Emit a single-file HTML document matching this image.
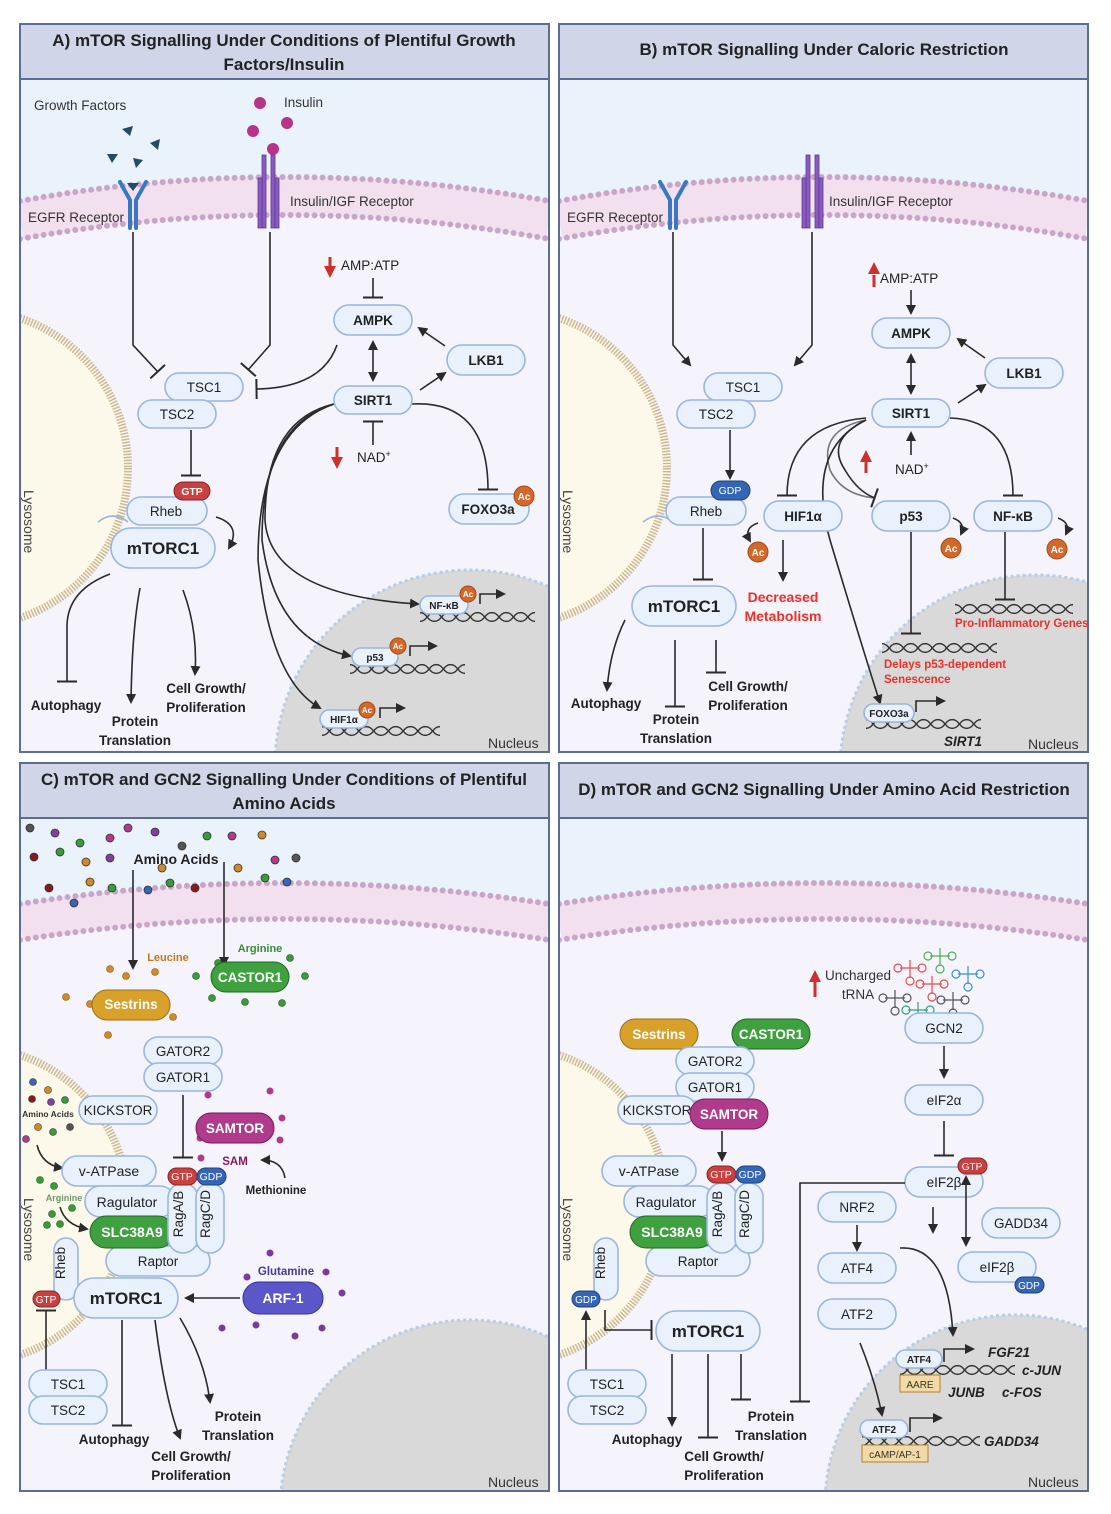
<!DOCTYPE html>
<html><head><meta charset="utf-8"><style>
html,body{margin:0;padding:0;background:#fff;width:1111px;height:1514px;overflow:hidden}
svg{display:block;font-family:"Liberation Sans",sans-serif;font-size:13.5px}
.p{fill:#e8f1fc;stroke:#9ab6df;stroke-width:1.6}
.t{fill:#222;text-anchor:middle}
.b{font-weight:bold}
.w{fill:#fff;font-weight:bold;text-anchor:middle}
.l{fill:none;stroke:#2a2a2a;stroke-width:1.6}
.lg{fill:none;stroke:#777;stroke-width:1.6}
.h{font-size:17px;font-weight:bold;fill:#222;text-anchor:middle}
.red{fill:#e8322a;font-weight:bold}
.it{font-style:italic;font-weight:bold;font-size:13.5px;fill:#222}
.ac{fill:#d2692a;stroke:#a44a16;stroke-width:1}
</style></head><body>
<svg width="1111" height="1514" viewBox="0 0 1111 1514">
<defs>
<marker id="ar" viewBox="0 0 10 10" refX="8" refY="5" markerWidth="10" markerHeight="10" orient="auto-start-reverse" markerUnits="userSpaceOnUse"><path d="M0,0L10,5L0,10z" fill="#2a2a2a"/></marker>
<marker id="tb" viewBox="0 0 4 20" refX="2" refY="10" markerWidth="4" markerHeight="20" orient="auto" markerUnits="userSpaceOnUse"><rect x="0.5" y="0" width="2" height="20" fill="#2a2a2a"/></marker>
<clipPath id="cA"><rect x="21" y="80" width="527" height="671"/></clipPath>
<clipPath id="cB"><rect x="560" y="80" width="527" height="671"/></clipPath>
<clipPath id="cC"><rect x="21" y="819" width="527" height="671"/></clipPath>
<clipPath id="cD"><rect x="560" y="819" width="527" height="671"/></clipPath>
<symbol id="dna" viewBox="0 0 120 16" preserveAspectRatio="none">
<path d="M0,3 C7.5,3 7.5,13 15,13 S22.5,3 30,3 S37.5,13 45,13 S52.5,3 60,3 S67.5,13 75,13 S82.5,3 90,3 S97.5,13 105,13 S112.5,3 120,3" fill="none" stroke="#333" stroke-width="1.6"/>
<path d="M0,13 C7.5,13 7.5,3 15,3 S22.5,13 30,13 S37.5,3 45,3 S52.5,13 60,13 S67.5,3 75,3 S82.5,13 90,13 S97.5,3 105,3 S112.5,13 120,13" fill="none" stroke="#333" stroke-width="1.6"/>
</symbol>
</defs>

<!-- ================= PANEL A ================= -->
<g clip-path="url(#cA)">
<rect x="20" y="79" width="530" height="674" fill="#f5f3fb"/>
<path d="M20,79H549V220Q284,172 20,220Z" fill="#eaf2fb"/>
<path d="M20,220Q284,172 549,220" fill="none" stroke="#f3e0ee" stroke-width="38"/>
<path d="M20,201Q284,153 549,201" fill="none" stroke="#c9a6c9" stroke-width="6" stroke-dasharray="0 8" stroke-linecap="round"/>
<path d="M20,239Q284,191 549,239" fill="none" stroke="#c9a6c9" stroke-width="6" stroke-dasharray="0 8" stroke-linecap="round"/>
<circle cx="-30" cy="468" r="158" fill="#fdf9ea" stroke="#cdb98c" stroke-width="8" stroke-dasharray="1.5 1.5"/>
<circle cx="470" cy="765" r="195" fill="#d9d9d9" stroke="#b8cde6" stroke-width="3" stroke-dasharray="3 3"/>
</g>
<rect x="20" y="24" width="529" height="728" fill="none" stroke="#5b6d95" stroke-width="2"/>
<rect x="20" y="24" width="529" height="55" fill="#d0d6e8" stroke="#5b6d95" stroke-width="2"/>
<text class="h" x="284" y="46">A) mTOR Signalling Under Conditions of Plentiful Growth</text>
<text class="h" x="284" y="70">Factors/Insulin</text>
<text x="34" y="110" font-size="13.5" fill="#333">Growth Factors</text>
<g fill="#1f4e63"><path d="M122,129l11,-3l-3,10z"/><path d="M150,143l10,-4l-2,11z"/><path d="M107,154l11,0l-6,9z"/><path d="M133,158l10,2l-7,8z"/></g>
<g fill="#b8348a"><circle cx="260" cy="103" r="6"/><circle cx="253" cy="131" r="6"/><circle cx="287" cy="123" r="6"/><circle cx="273" cy="149" r="6"/></g>
<text x="284" y="107" font-size="13.5" fill="#333">Insulin</text>
<g fill="none" stroke="#3a78c0" stroke-width="4" stroke-linecap="round"><path d="M120,182l10,18v28"/><path d="M146,182l-10,18v28"/></g>
<path d="M127,183h12l-6,8z" fill="#1f4e63"/>
<g fill="#8a5ac0" stroke="#5a3a90" stroke-width="0.8"><rect x="262" y="155" width="4" height="73"/><rect x="271" y="155" width="4" height="73"/><rect x="258" y="178" width="4" height="50"/><rect x="275" y="178" width="4" height="50"/></g>
<text x="28" y="222" font-size="13.5" fill="#333">EGFR Receptor</text>
<text x="290" y="206" font-size="13.5" fill="#333">Insulin/IGF Receptor</text>
<text x="24" y="490" font-size="14" fill="#444" transform="rotate(90 24 490)">Lysosome</text>
<text x="488" y="748" font-size="14" fill="#333">Nucleus</text>
<path class="l" d="M133,232V345L158,372" marker-end="url(#tb)"/>
<path class="l" d="M270,232V345L248,370" marker-end="url(#tb)"/>
<path class="l" d="M337,345Q322,388 256,389" marker-end="url(#tb)"/>
<path class="l" d="M373,278V298" marker-end="url(#tb)"/>
<path class="l" d="M373,342V380" marker-start="url(#ar)" marker-end="url(#ar)"/>
<path class="l" d="M373,445V421" marker-end="url(#tb)"/>
<path class="l" d="M445,346L419,328" marker-end="url(#ar)"/>
<path class="l" d="M420,390L445,373" marker-end="url(#ar)"/>
<path class="l" d="M412,404Q488,400 488,490" marker-end="url(#tb)"/>
<path class="l" d="M191,430V476" marker-end="url(#tb)"/>
<path class="l" d="M216,517Q242,525 229,548" marker-end="url(#ar)"/>
<path class="l" d="M110,574Q68,590 67,625V682" marker-end="url(#tb)"/>
<path class="l" d="M140,588Q132,630 131,702" marker-end="url(#ar)"/>
<path class="l" d="M183,590Q198,630 195,674" marker-end="url(#ar)"/>
<path class="l" d="M334,404Q265,420 265,520Q270,595 418,604" marker-end="url(#ar)"/>
<path class="l" d="M334,404Q262,425 262,540Q275,640 350,656" marker-end="url(#ar)"/>
<path class="l" d="M334,404Q258,430 258,560Q270,680 320,708" marker-end="url(#ar)"/>
<rect class="p" x="165" y="373" width="78" height="28" rx="14"/><text class="t" x="204" y="392">TSC1</text>
<rect class="p" x="138" y="400" width="78" height="28" rx="14"/><text class="t" x="177" y="419">TSC2</text>
<rect class="p" x="334" y="305" width="78" height="30" rx="15"/><text class="t b" x="373" y="325">AMPK</text>
<rect class="p" x="334" y="386" width="78" height="28" rx="14"/><text class="t b" x="373" y="405">SIRT1</text>
<rect class="p" x="447" y="345" width="78" height="30" rx="15"/><text class="t b" x="486" y="365">LKB1</text>
<rect class="p" x="449" y="494" width="80" height="30" rx="15"/><text class="t b" x="488" y="514">FOXO3a</text>
<circle class="ac" cx="524" cy="496" r="10"/><text class="w" x="524" y="500" font-size="10">Ac</text>
<text x="341" y="270" font-size="13.5" fill="#222">AMP:ATP</text>
<path d="M330,257v12" stroke="#d0302a" stroke-width="3"/><path d="M324,266h12l-6,12z" fill="#d0302a"/>
<text x="357" y="462" font-size="13.5" fill="#222">NAD<tspan font-size="9" dy="-5">+</tspan></text>
<path d="M337,447v12" stroke="#d0302a" stroke-width="3"/><path d="M331,457h12l-6,12z" fill="#d0302a"/>
<path d="M98,522q15,-12 30,0" fill="none" stroke="#9ab6df" stroke-width="1.6"/>
<rect class="p" x="127" y="497" width="80" height="28" rx="14"/><text class="t" x="166" y="516">Rheb</text>
<rect x="174" y="482" width="36" height="18" rx="9" fill="#c84040" stroke="#8e2424"/><text class="w" x="192" y="495" font-size="10.5">GTP</text>
<rect class="p" x="111" y="528" width="104" height="40" rx="20"/><text class="t b" x="163" y="554" font-size="17">mTORC1</text>
<use href="#dna" x="420" y="610" width="115" height="14"/>
<rect class="p" x="420" y="596" width="48" height="18" rx="9"/><text class="t b" x="444" y="609" font-size="10">NF-κB</text>
<circle class="ac" cx="468" cy="594" r="8"/><text class="w" x="468" y="597" font-size="8">Ac</text>
<path class="l" d="M480,604V594H504" marker-end="url(#ar)"/>
<use href="#dna" x="350" y="662" width="115" height="14"/>
<rect class="p" x="352" y="648" width="46" height="18" rx="9"/><text class="t b" x="375" y="661" font-size="10">p53</text>
<circle class="ac" cx="398" cy="646" r="8"/><text class="w" x="398" y="649" font-size="8">Ac</text>
<path class="l" d="M410,656V646H436" marker-end="url(#ar)"/>
<use href="#dna" x="322" y="724" width="118" height="14"/>
<rect class="p" x="320" y="710" width="48" height="18" rx="9"/><text class="t b" x="344" y="723" font-size="10">HIF1α</text>
<circle class="ac" cx="367" cy="710" r="8"/><text class="w" x="367" y="713" font-size="8">Ac</text>
<path class="l" d="M380,718V708H404" marker-end="url(#ar)"/>
<text class="t b" x="66" y="710">Autophagy</text>
<text class="t b" x="135" y="726">Protein</text><text class="t b" x="135" y="745">Translation</text>
<text class="t b" x="206" y="693">Cell Growth/</text><text class="t b" x="206" y="712">Proliferation</text>

<!-- ================= PANEL B ================= -->
<g clip-path="url(#cB)">
<rect x="559" y="79" width="530" height="674" fill="#f5f3fb"/>
<path d="M559,79H1088V220Q823,172 559,220Z" fill="#eaf2fb"/>
<path d="M559,220Q823,172 1088,220" fill="none" stroke="#f3e0ee" stroke-width="38"/>
<path d="M559,201Q823,153 1088,201" fill="none" stroke="#c9a6c9" stroke-width="6" stroke-dasharray="0 8" stroke-linecap="round"/>
<path d="M559,239Q823,191 1088,239" fill="none" stroke="#c9a6c9" stroke-width="6" stroke-dasharray="0 8" stroke-linecap="round"/>
<circle cx="509" cy="468" r="158" fill="#fdf9ea" stroke="#cdb98c" stroke-width="8" stroke-dasharray="1.5 1.5"/>
<circle cx="1035" cy="770" r="195" fill="#d9d9d9" stroke="#b8cde6" stroke-width="3" stroke-dasharray="3 3"/>
</g>
<rect x="559" y="24" width="529" height="728" fill="none" stroke="#5b6d95" stroke-width="2"/>
<rect x="559" y="24" width="529" height="55" fill="#d0d6e8" stroke="#5b6d95" stroke-width="2"/>
<text class="h" x="824" y="55">B) mTOR Signalling Under Caloric Restriction</text>
<g fill="none" stroke="#3a78c0" stroke-width="4" stroke-linecap="round"><path d="M660,182l10,18v28"/><path d="M686,182l-10,18v28"/></g>
<g fill="#8a5ac0" stroke="#5a3a90" stroke-width="0.8"><rect x="806" y="155" width="4" height="73"/><rect x="815" y="155" width="4" height="73"/><rect x="802" y="178" width="4" height="50"/><rect x="819" y="178" width="4" height="50"/></g>
<text x="567" y="222" font-size="13.5" fill="#333">EGFR Receptor</text>
<text x="829" y="206" font-size="13.5" fill="#333">Insulin/IGF Receptor</text>
<text x="563" y="490" font-size="14" fill="#444" transform="rotate(90 563 490)">Lysosome</text>
<text x="1028" y="749" font-size="14" fill="#333">Nucleus</text>
<path class="l" d="M673,232V345L690,365" marker-end="url(#ar)"/>
<path class="l" d="M812,232V345L795,365" marker-end="url(#ar)"/>
<path class="l" d="M911,290V313" marker-end="url(#ar)"/>
<path class="l" d="M911,355V393" marker-start="url(#ar)" marker-end="url(#ar)"/>
<path class="l" d="M985,358L958,339" marker-end="url(#ar)"/>
<path class="l" d="M958,403L985,385" marker-end="url(#ar)"/>
<path class="l" d="M911,455V433" marker-end="url(#ar)"/>
<path class="l" d="M730,430V478" marker-end="url(#ar)"/>
<path class="l" d="M703,528V580" marker-end="url(#tb)"/>
<path class="l" d="M866,418Q787,425 787,496" marker-end="url(#tb)"/>
<path class="lg" d="M866,420Q818,430 830,470Q842,495 875,498"/>
<path class="l" d="M866,420Q825,440 845,470Q858,492 875,498" marker-end="url(#tb)"/>
<path class="l" d="M950,418Q1013,420 1013,496" marker-end="url(#tb)"/>
<path class="l" d="M866,420Q805,450 830,540Q860,640 880,703" marker-end="url(#ar)"/>
<path class="l" d="M783,540V580" marker-end="url(#ar)"/>
<path class="l" d="M911,532V634" marker-end="url(#tb)"/>
<path class="l" d="M1005,532V600" marker-end="url(#tb)"/>
<path class="l" d="M758,523q-15,5 -8,18" marker-end="url(#ar)"/>
<path class="l" d="M953,518q13,5 8,16" marker-end="url(#ar)"/>
<path class="l" d="M1058,518q13,5 8,16" marker-end="url(#ar)"/>
<path class="l" d="M625,620Q610,650 607,690" marker-end="url(#ar)"/>
<path class="l" d="M675,640V707" marker-end="url(#tb)"/>
<path class="l" d="M716,640V673" marker-end="url(#tb)"/>
<rect class="p" x="704" y="373" width="78" height="28" rx="14"/><text class="t" x="743" y="392">TSC1</text>
<rect class="p" x="677" y="400" width="78" height="28" rx="14"/><text class="t" x="716" y="419">TSC2</text>
<rect class="p" x="872" y="318" width="78" height="30" rx="15"/><text class="t b" x="911" y="338">AMPK</text>
<rect class="p" x="872" y="399" width="78" height="28" rx="14"/><text class="t b" x="911" y="418">SIRT1</text>
<rect class="p" x="985" y="358" width="78" height="30" rx="15"/><text class="t b" x="1024" y="378">LKB1</text>
<text x="880" y="283" font-size="13.5" fill="#222">AMP:ATP</text>
<path d="M874,275v12" stroke="#d0302a" stroke-width="3"/><path d="M868,274h12l-6,-12z" fill="#d0302a"/>
<text x="895" y="474" font-size="13.5" fill="#222">NAD<tspan font-size="9" dy="-5">+</tspan></text>
<path d="M866,461v12" stroke="#d0302a" stroke-width="3"/><path d="M860,462h12l-6,-12z" fill="#d0302a"/>
<path d="M643,522q15,-12 30,0" fill="none" stroke="#9ab6df" stroke-width="1.6"/>
<rect class="p" x="666" y="497" width="80" height="28" rx="14"/><text class="t" x="706" y="516">Rheb</text>
<rect x="711" y="481" width="39" height="19" rx="9.5" fill="#3565b5" stroke="#1f447f"/><text x="730" y="494" font-size="10.5" fill="#fff" text-anchor="middle">GDP</text>
<rect class="p" x="632" y="586" width="104" height="40" rx="20"/><text class="t b" x="684" y="612" font-size="17">mTORC1</text>
<rect class="p" x="764" y="501" width="78" height="30" rx="15"/><text class="t b" x="803" y="521">HIF1α</text>
<circle class="ac" cx="758" cy="552" r="10"/><text class="w" x="758" y="556" font-size="10">Ac</text>
<rect class="p" x="872" y="501" width="78" height="30" rx="15"/><text class="t b" x="911" y="521">p53</text>
<circle class="ac" cx="951" cy="548" r="10"/><text class="w" x="951" y="552" font-size="10">Ac</text>
<rect class="p" x="974" y="501" width="78" height="30" rx="15"/><text class="t b" x="1013" y="521">NF-κB</text>
<circle class="ac" cx="1057" cy="549" r="10"/><text class="w" x="1057" y="553" font-size="10">Ac</text>
<text class="red" x="783" y="602" text-anchor="middle" font-size="14">Decreased</text>
<text class="red" x="783" y="621" text-anchor="middle" font-size="14">Metabolism</text>
<use href="#dna" x="955" y="602" width="118" height="14"/>
<text class="red" x="955" y="627" font-size="11.5">Pro-Inflammatory Genes</text>
<use href="#dna" x="882" y="641" width="115" height="14"/>
<text class="red" x="884" y="668" font-size="11.5">Delays p53-dependent</text>
<text class="red" x="884" y="683" font-size="11.5">Senescence</text>
<use href="#dna" x="866" y="717" width="115" height="14"/>
<rect class="p" x="864" y="704" width="50" height="18" rx="9"/><text class="t b" x="889" y="717" font-size="10">FOXO3a</text>
<path class="l" d="M916,712V701H944" marker-end="url(#ar)"/>
<text class="it" x="944" y="746">SIRT1</text>
<text class="t b" x="606" y="708">Autophagy</text>
<text class="t b" x="676" y="724">Protein</text><text class="t b" x="676" y="743">Translation</text>
<text class="t b" x="748" y="691">Cell Growth/</text><text class="t b" x="748" y="710">Proliferation</text>

<!-- ================= PANEL C ================= -->
<g clip-path="url(#cC)">
<rect x="20" y="818" width="530" height="674" fill="#f5f3fb"/>
<path d="M20,818H549V922Q284,900 20,922Z" fill="#eaf2fb"/>
<path d="M20,922Q284,880 549,922" fill="none" stroke="#f3e0ee" stroke-width="36"/>
<path d="M20,904Q284,862 549,904" fill="none" stroke="#c9a6c9" stroke-width="6" stroke-dasharray="0 8" stroke-linecap="round"/>
<path d="M20,940Q284,898 549,940" fill="none" stroke="#c9a6c9" stroke-width="6" stroke-dasharray="0 8" stroke-linecap="round"/>
<circle cx="-30" cy="1205" r="158" fill="#fdf9ea" stroke="#cdb98c" stroke-width="8" stroke-dasharray="1.5 1.5"/>
<circle cx="470" cy="1510" r="190" fill="#d9d9d9" stroke="#b8cde6" stroke-width="3" stroke-dasharray="3 3"/>
</g>
<rect x="20" y="763" width="529" height="728" fill="none" stroke="#5b6d95" stroke-width="2"/>
<rect x="20" y="763" width="529" height="55" fill="#d0d6e8" stroke="#5b6d95" stroke-width="2"/>
<text class="h" x="284" y="785">C) mTOR and GCN2  Signalling Under Conditions of Plentiful</text>
<text class="h" x="284" y="809">Amino Acids</text>
<g stroke="#333" stroke-width="0.8">
<circle cx="30" cy="828" r="4" fill="#555"/><circle cx="55" cy="833" r="4" fill="#8040a0"/><circle cx="80" cy="843" r="4" fill="#3a9a3a"/><circle cx="110" cy="838" r="4" fill="#b03a8c"/><circle cx="128" cy="828" r="4" fill="#b03a8c"/><circle cx="155" cy="832" r="4" fill="#8040a0"/><circle cx="182" cy="846" r="4" fill="#555"/><circle cx="207" cy="836" r="4" fill="#3a9a3a"/><circle cx="232" cy="836" r="4" fill="#b03a8c"/><circle cx="262" cy="835" r="4" fill="#d08a2a"/><circle cx="275" cy="860" r="4" fill="#b03a8c"/><circle cx="296" cy="858" r="4" fill="#555"/>
<circle cx="34" cy="857" r="4" fill="#8a1a1a"/><circle cx="60" cy="852" r="4" fill="#3a9a3a"/><circle cx="86" cy="862" r="4" fill="#d08a2a"/><circle cx="110" cy="858" r="4" fill="#8040a0"/><circle cx="49" cy="888" r="4" fill="#8a1a1a"/><circle cx="74" cy="903" r="4" fill="#3565b5"/><circle cx="90" cy="882" r="4" fill="#d08a2a"/><circle cx="112" cy="888" r="4" fill="#3a9a3a"/><circle cx="148" cy="890" r="4" fill="#3565b5"/><circle cx="170" cy="883" r="4" fill="#3a9a3a"/><circle cx="195" cy="888" r="4" fill="#8a1a1a"/><circle cx="238" cy="868" r="4" fill="#d08a2a"/><circle cx="265" cy="878" r="4" fill="#3a9a3a"/><circle cx="287" cy="882" r="4" fill="#3565b5"/><circle cx="162" cy="868" r="4" fill="#d08a2a"/>
</g>
<text class="t b" x="176" y="864" font-size="14">Amino Acids</text>
<path class="l" d="M133,870V968" marker-end="url(#ar)"/>
<path class="l" d="M224,862V965" marker-end="url(#ar)"/>
<g fill="#d08a2a" stroke="#8a5a10" stroke-width="0.6"><circle cx="110" cy="969" r="3.5"/><circle cx="126" cy="976" r="3.5"/><circle cx="155" cy="972" r="3.5"/><circle cx="66" cy="997" r="3.5"/><circle cx="173" cy="1017" r="3.5"/><circle cx="108" cy="1035" r="3.5"/><circle cx="90" cy="1004" r="3.5"/></g>
<text x="168" y="961" font-size="11" font-weight="bold" fill="#c07a20" text-anchor="middle">Leucine</text>
<rect x="92" y="990" width="78" height="30" rx="15" fill="#d9a12a" stroke="#9a6e16"/><text class="w" x="131" y="1009" font-size="13.5">Sestrins</text>
<g fill="#3a9a3a" stroke="#1a5a1a" stroke-width="0.6"><circle cx="196" cy="976" r="3.5"/><circle cx="218" cy="963" r="3.5"/><circle cx="305" cy="976" r="3.5"/><circle cx="290" cy="958" r="3.5"/><circle cx="245" cy="1002" r="3.5"/><circle cx="282" cy="1003" r="3.5"/><circle cx="212" cy="998" r="3.5"/></g>
<text x="260" y="952" font-size="11" font-weight="bold" fill="#3a8a3a" text-anchor="middle">Arginine</text>
<rect x="211" y="962" width="78" height="30" rx="15" fill="#3fa03f" stroke="#226622"/><text class="w" x="250" y="982" font-size="13.5">CASTOR1</text>
<path class="l" d="M183,1095V1158" marker-end="url(#tb)"/>
<rect class="p" x="144" y="1037" width="78" height="28" rx="14"/><text class="t" x="183" y="1056">GATOR2</text>
<rect class="p" x="144" y="1063" width="78" height="28" rx="14"/><text class="t" x="183" y="1082">GATOR1</text>
<rect class="p" x="79" y="1096" width="78" height="28" rx="14"/><text class="t" x="118" y="1115">KICKSTOR</text>
<g fill="#b03a8c"><circle cx="208" cy="1095" r="3.5"/><circle cx="270" cy="1091" r="3.5"/><circle cx="282" cy="1118" r="3.5"/><circle cx="280" cy="1140" r="3.5"/><circle cx="200" cy="1138" r="3.5"/><circle cx="201" cy="1158" r="3.5"/></g>
<rect x="196" y="1113" width="78" height="30" rx="15" fill="#b03a8c" stroke="#7a1a5a"/><text class="w" x="235" y="1133" font-size="13.5">SAMTOR</text>
<text x="235" y="1165" font-size="11.5" font-weight="bold" fill="#8a1a5a" text-anchor="middle">SAM</text>
<path class="l" d="M285,1178Q282,1160 262,1160" marker-end="url(#ar)"/>
<text class="t b" x="276" y="1194" font-size="11.5">Methionine</text>
<g stroke="#333" stroke-width="0.6"><circle cx="33" cy="1082" r="3.5" fill="#3565b5"/><circle cx="32" cy="1099" r="3.5" fill="#8a1a1a"/><circle cx="48" cy="1090" r="3.5" fill="#d08a2a"/><circle cx="51" cy="1102" r="3.5" fill="#8040a0"/><circle cx="65" cy="1100" r="3.5" fill="#3a9a3a"/><circle cx="38" cy="1127" r="3.5" fill="#d08a2a"/><circle cx="53" cy="1132" r="3.5" fill="#3a9a3a"/><circle cx="70" cy="1127" r="3.5" fill="#555"/><circle cx="26" cy="1139" r="3.5" fill="#b03a8c"/></g>
<text x="48" y="1117" font-size="8.5" font-weight="bold" fill="#333" text-anchor="middle">Amino Acids</text>
<path class="l" d="M37,1145Q42,1165 62,1168" marker-end="url(#ar)"/>
<g fill="#3a9a3a" stroke="#1a5a1a" stroke-width="0.6"><circle cx="40" cy="1180" r="3.5"/><circle cx="54" cy="1186" r="3.5"/><circle cx="52" cy="1214" r="3.5"/><circle cx="72" cy="1208" r="3.5"/><circle cx="47" cy="1225" r="3.5"/><circle cx="60" cy="1224" r="3.5"/></g>
<text x="64" y="1201" font-size="9" font-weight="bold" fill="#6a9a6a" text-anchor="middle">Arginine</text>
<path class="l" d="M60,1207Q65,1225 87,1229" marker-end="url(#ar)"/>
<rect class="p" x="62" y="1156" width="94" height="30" rx="15"/><text class="t" x="109" y="1176" font-size="14">v-ATPase</text>
<rect class="p" x="85" y="1186" width="90" height="31" rx="15"/><text class="t" x="127" y="1207" font-size="14">Ragulator</text>
<rect class="p" x="106" y="1246" width="104" height="30" rx="15"/><text class="t" x="158" y="1266">Raptor</text>
<rect x="90" y="1216" width="84" height="32" rx="16" fill="#3fa03f" stroke="#226622"/><text class="w" x="132" y="1237" font-size="14">SLC38A9</text>
<rect class="p" x="168" y="1183" width="30" height="70" rx="15"/><text class="t" x="187" y="1218" transform="rotate(-90 183 1218)">RagA/B</text>
<rect class="p" x="196" y="1183" width="28" height="70" rx="14"/><text class="t" x="214" y="1218" transform="rotate(-90 210 1218)">RagC/D</text>
<rect x="168" y="1168" width="29" height="17" rx="8.5" fill="#c84040" stroke="#8e2424"/><text x="182" y="1180" font-size="10.5" fill="#fff" text-anchor="middle">GTP</text>
<rect x="197" y="1168" width="29" height="17" rx="8.5" fill="#3565b5" stroke="#1f447f"/><text x="211" y="1180" font-size="10.5" fill="#fff" text-anchor="middle">GDP</text>
<rect class="p" x="54" y="1238" width="24" height="62" rx="12"/><text class="t" x="70" y="1268" transform="rotate(-90 65 1268)">Rheb</text>
<rect x="33" y="1291" width="27" height="16" rx="8" fill="#c84040" stroke="#8e2424"/><text x="46" y="1303" font-size="10" fill="#fff" text-anchor="middle">GTP</text>
<rect class="p" x="74" y="1278" width="104" height="40" rx="20"/><text class="t b" x="126" y="1304" font-size="17">mTORC1</text>
<g fill="#7a3aa0"><circle cx="270" cy="1253" r="3.5"/><circle cx="326" cy="1272" r="3.5"/><circle cx="247" cy="1277" r="3.5"/><circle cx="342" cy="1293" r="3.5"/><circle cx="222" cy="1328" r="3.5"/><circle cx="256" cy="1325" r="3.5"/><circle cx="295" cy="1336" r="3.5"/><circle cx="322" cy="1328" r="3.5"/></g>
<text x="286" y="1275" font-size="11.5" font-weight="bold" fill="#4a3a90" text-anchor="middle">Glutamine</text>
<rect x="243" y="1282" width="80" height="32" rx="16" fill="#5b57c8" stroke="#34309a"/><text class="w" x="283" y="1303" font-size="14">ARF-1</text>
<path class="l" d="M240,1298H186" marker-end="url(#ar)"/>
<path class="l" d="M46,1370V1310" marker-end="url(#tb)"/>
<rect class="p" x="29" y="1370" width="78" height="28" rx="14"/><text class="t" x="68" y="1389">TSC1</text>
<rect class="p" x="29" y="1396" width="78" height="28" rx="14"/><text class="t" x="68" y="1415">TSC2</text>
<path class="l" d="M122,1320V1426" marker-end="url(#tb)"/>
<path class="l" d="M155,1320Q165,1400 180,1438" marker-end="url(#ar)"/>
<path class="l" d="M180,1318Q205,1360 210,1402" marker-end="url(#ar)"/>
<text x="24" y="1198" font-size="14" fill="#444" transform="rotate(90 24 1198)">Lysosome</text>
<text class="t b" x="114" y="1444">Autophagy</text>
<text class="t b" x="191" y="1461">Cell Growth/</text><text class="t b" x="191" y="1480">Proliferation</text>
<text class="t b" x="238" y="1421">Protein</text><text class="t b" x="238" y="1440">Translation</text>
<text x="488" y="1487" font-size="14" fill="#333">Nucleus</text>

<!-- ================= PANEL D ================= -->
<g clip-path="url(#cD)">
<rect x="559" y="818" width="530" height="674" fill="#f5f3fb"/>
<path d="M559,818H1088V922Q823,900 559,922Z" fill="#eaf2fb"/>
<path d="M559,922Q823,880 1088,922" fill="none" stroke="#f3e0ee" stroke-width="36"/>
<path d="M559,904Q823,862 1088,904" fill="none" stroke="#c9a6c9" stroke-width="6" stroke-dasharray="0 8" stroke-linecap="round"/>
<path d="M559,940Q823,898 1088,940" fill="none" stroke="#c9a6c9" stroke-width="6" stroke-dasharray="0 8" stroke-linecap="round"/>
<circle cx="509" cy="1205" r="158" fill="#fdf9ea" stroke="#cdb98c" stroke-width="8" stroke-dasharray="1.5 1.5"/>
<circle cx="1015" cy="1505" r="190" fill="#d9d9d9" stroke="#b8cde6" stroke-width="3" stroke-dasharray="3 3"/>
</g>
<rect x="559" y="763" width="529" height="728" fill="none" stroke="#5b6d95" stroke-width="2"/>
<rect x="559" y="763" width="529" height="55" fill="#d0d6e8" stroke="#5b6d95" stroke-width="2"/>
<text class="h" x="824" y="795">D) mTOR and GCN2  Signalling Under Amino Acid Restriction</text>
<text x="563" y="1198" font-size="14" fill="#444" transform="rotate(90 563 1198)">Lysosome</text>
<text x="858" y="980" font-size="13.5" fill="#333" text-anchor="middle">Uncharged</text>
<text x="858" y="999" font-size="13.5" fill="#333" text-anchor="middle">tRNA</text>
<path d="M815,980v17" stroke="#d0302a" stroke-width="3"/><path d="M809,982h12l-6,-12z" fill="#d0302a"/>
<g fill="none" stroke-width="1.2">
<g stroke="#e05050"><path d="M910,960v18M900,968h20"/><circle cx="898" cy="968" r="4"/><circle cx="922" cy="968" r="4"/><circle cx="910" cy="981" r="4"/></g>
<g stroke="#50b050"><path d="M940,948v18M930,956h20"/><circle cx="928" cy="956" r="4"/><circle cx="952" cy="956" r="4"/><circle cx="940" cy="969" r="4"/></g>
<g stroke="#e05050"><path d="M932,976v18M922,984h20"/><circle cx="920" cy="984" r="4"/><circle cx="944" cy="984" r="4"/><circle cx="932" cy="997" r="4"/></g>
<g stroke="#3a90d0"><path d="M968,966v18M958,974h20"/><circle cx="956" cy="974" r="4"/><circle cx="980" cy="974" r="4"/><circle cx="968" cy="987" r="4"/></g>
<g stroke="#555"><path d="M895,990v18M885,998h20"/><circle cx="883" cy="998" r="4"/><circle cx="907" cy="998" r="4"/><circle cx="895" cy="1011" r="4"/></g>
<g stroke="#30a080"><path d="M918,1002v18M908,1010h20"/><circle cx="906" cy="1010" r="4"/><circle cx="930" cy="1010" r="4"/><circle cx="918" cy="1023" r="4"/></g>
<g stroke="#555"><path d="M953,992v18M943,1000h20"/><circle cx="941" cy="1000" r="4"/><circle cx="965" cy="1000" r="4"/><circle cx="953" cy="1013" r="4"/></g>
</g>
<rect class="p" x="905" y="1013" width="78" height="30" rx="15"/><text class="t" x="944" y="1033">GCN2</text>
<path class="l" d="M944,1046V1077" marker-end="url(#ar)"/>
<rect class="p" x="905" y="1085" width="78" height="30" rx="15"/><text class="t" x="944" y="1105">eIF2α</text>
<path class="l" d="M944,1121V1156" marker-end="url(#tb)"/>
<rect class="p" x="905" y="1167" width="78" height="30" rx="15"/><text class="t" x="944" y="1187">eIF2β</text>
<rect x="958" y="1158" width="29" height="16" rx="8" fill="#c84040" stroke="#8e2424"/><text x="972" y="1170" font-size="10" fill="#fff" text-anchor="middle">GTP</text>
<path class="l" d="M933,1207V1232" marker-end="url(#ar)"/>
<path class="l" d="M966,1177V1245" marker-start="url(#ar)" marker-end="url(#ar)"/>
<rect class="p" x="982" y="1208" width="78" height="30" rx="15"/><text class="t" x="1021" y="1228">GADD34</text>
<rect class="p" x="958" y="1252" width="78" height="30" rx="15"/><text class="t" x="997" y="1272">eIF2β</text>
<rect x="1015" y="1277" width="29" height="16" rx="8" fill="#3565b5" stroke="#1f447f"/><text x="1029" y="1289" font-size="10" fill="#fff" text-anchor="middle">GDP</text>
<path class="l" d="M905,1183H800V1402" marker-end="url(#tb)"/>
<rect x="620" y="1019" width="78" height="30" rx="15" fill="#d9a12a" stroke="#9a6e16"/><text class="w" x="659" y="1039" font-size="13.5">Sestrins</text>
<rect x="732" y="1019" width="78" height="30" rx="15" fill="#3fa03f" stroke="#226622"/><text class="w" x="771" y="1039" font-size="13.5">CASTOR1</text>
<rect class="p" x="676" y="1047" width="78" height="28" rx="14"/><text class="t" x="715" y="1066">GATOR2</text>
<rect class="p" x="676" y="1073" width="78" height="28" rx="14"/><text class="t" x="715" y="1092">GATOR1</text>
<rect class="p" x="618" y="1096" width="78" height="28" rx="14"/><text class="t" x="657" y="1115">KICKSTOR</text>
<rect x="690" y="1099" width="78" height="30" rx="15" fill="#b03a8c" stroke="#7a1a5a"/><text class="w" x="729" y="1119" font-size="13.5">SAMTOR</text>
<path class="l" d="M722,1131V1160" marker-end="url(#ar)"/>
<rect class="p" x="602" y="1156" width="94" height="30" rx="15"/><text class="t" x="649" y="1176" font-size="14">v-ATPase</text>
<rect class="p" x="624" y="1186" width="90" height="31" rx="15"/><text class="t" x="666" y="1207" font-size="14">Ragulator</text>
<rect class="p" x="646" y="1246" width="104" height="30" rx="15"/><text class="t" x="698" y="1266">Raptor</text>
<rect x="630" y="1216" width="84" height="32" rx="16" fill="#3fa03f" stroke="#226622"/><text class="w" x="672" y="1237" font-size="14">SLC38A9</text>
<rect class="p" x="707" y="1183" width="30" height="70" rx="15"/><text class="t" x="726" y="1218" transform="rotate(-90 722 1218)">RagA/B</text>
<rect class="p" x="735" y="1183" width="28" height="70" rx="14"/><text class="t" x="753" y="1218" transform="rotate(-90 749 1218)">RagC/D</text>
<rect x="707" y="1166" width="29" height="17" rx="8.5" fill="#c84040" stroke="#8e2424"/><text x="721" y="1178" font-size="10.5" fill="#fff" text-anchor="middle">GTP</text>
<rect x="736" y="1166" width="29" height="17" rx="8.5" fill="#3565b5" stroke="#1f447f"/><text x="750" y="1178" font-size="10.5" fill="#fff" text-anchor="middle">GDP</text>
<rect class="p" x="594" y="1238" width="24" height="62" rx="12"/><text class="t" x="610" y="1268" transform="rotate(-90 605 1268)">Rheb</text>
<rect x="572" y="1291" width="28" height="16" rx="8" fill="#3565b5" stroke="#1f447f"/><text x="586" y="1303" font-size="10" fill="#fff" text-anchor="middle">GDP</text>
<path class="l" d="M605,1310V1330H652" marker-end="url(#tb)"/>
<rect class="p" x="656" y="1311" width="104" height="40" rx="20"/><text class="t b" x="708" y="1337" font-size="17">mTORC1</text>
<path class="l" d="M586,1370V1312" marker-end="url(#ar)"/>
<rect class="p" x="568" y="1370" width="78" height="28" rx="14"/><text class="t" x="607" y="1389">TSC1</text>
<rect class="p" x="568" y="1396" width="78" height="28" rx="14"/><text class="t" x="607" y="1415">TSC2</text>
<path class="l" d="M672,1354V1425" marker-end="url(#ar)"/>
<path class="l" d="M708,1354V1438" marker-end="url(#tb)"/>
<path class="l" d="M741,1354V1400" marker-end="url(#tb)"/>
<text class="t b" x="647" y="1444">Autophagy</text>
<text class="t b" x="724" y="1461">Cell Growth/</text><text class="t b" x="724" y="1480">Proliferation</text>
<text class="t b" x="771" y="1421">Protein</text><text class="t b" x="771" y="1440">Translation</text>
<rect class="p" x="818" y="1192" width="78" height="30" rx="15"/><text class="t" x="857" y="1212">NRF2</text>
<path class="l" d="M857,1225V1250" marker-end="url(#ar)"/>
<rect class="p" x="818" y="1253" width="78" height="30" rx="15"/><text class="t" x="857" y="1273">ATF4</text>
<rect class="p" x="818" y="1299" width="78" height="30" rx="15"/><text class="t" x="857" y="1319">ATF2</text>
<path class="l" d="M900,1248Q948,1245 953,1335" marker-end="url(#ar)"/>
<path class="l" d="M860,1343Q875,1380 882,1415" marker-end="url(#ar)"/>
<use href="#dna" x="900" y="1363" width="115" height="14"/>
<rect class="p" x="896" y="1350" width="46" height="18" rx="9"/><text class="t b" x="919" y="1363" font-size="10">ATF4</text>
<rect x="900" y="1375" width="40" height="17" fill="#f3d9a4" stroke="#b08030"/><text x="920" y="1388" font-size="10" fill="#333" text-anchor="middle">AARE</text>
<path class="l" d="M944,1362V1349H973" marker-end="url(#ar)"/>
<text class="it" x="988" y="1357">FGF21</text>
<text class="it" x="1022" y="1375">c-JUN</text>
<text class="it" x="948" y="1397">JUNB</text>
<text class="it" x="1002" y="1397">c-FOS</text>
<use href="#dna" x="862" y="1434" width="118" height="14"/>
<rect class="p" x="860" y="1420" width="48" height="18" rx="9"/><text class="t b" x="884" y="1433" font-size="10">ATF2</text>
<rect x="862" y="1445" width="66" height="17" fill="#f3d9a4" stroke="#b08030"/><text x="895" y="1458" font-size="10" fill="#333" text-anchor="middle">cAMP/AP-1</text>
<path class="l" d="M910,1432V1418H941" marker-end="url(#ar)"/>
<text class="it" x="984" y="1446">GADD34</text>
<text x="1028" y="1487" font-size="14" fill="#333">Nucleus</text>
</svg>
</body></html>
